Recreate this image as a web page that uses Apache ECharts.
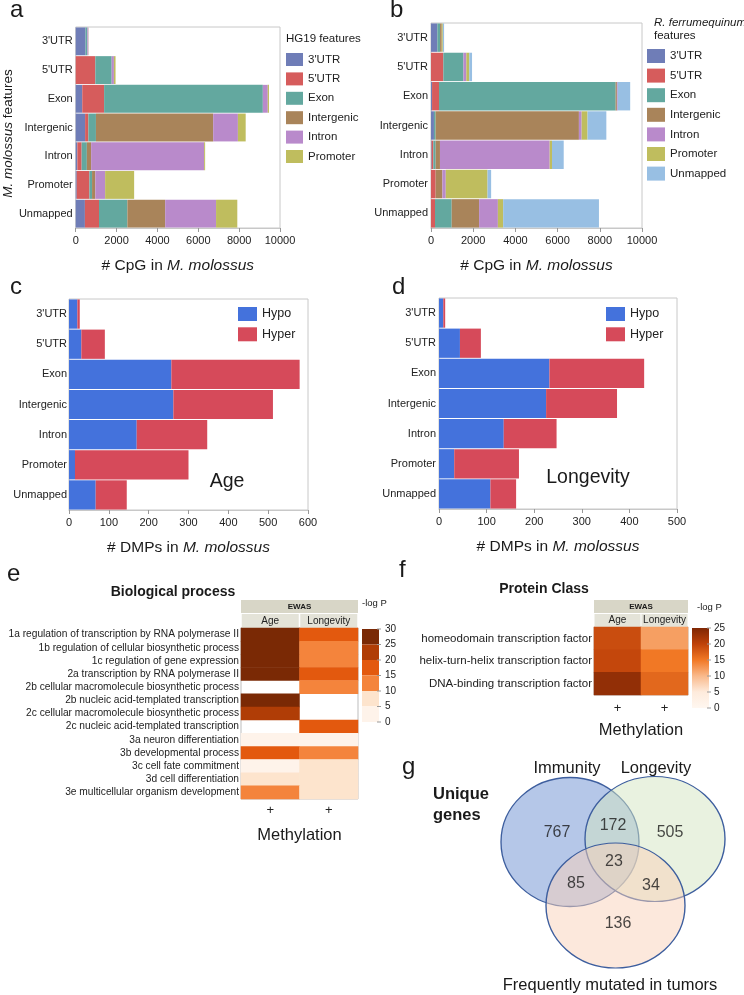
<!DOCTYPE html>
<html><head><meta charset="utf-8">
<script src="https://cdn.jsdelivr.net/npm/echarts@6/dist/echarts.min.js"></script>
<style>html,body{margin:0;padding:0;background:#fff}#c{width:744px;height:995px}</style>
</head><body><div id="c"></div>
<script>
// ---------- DATA ----------
const features = ["3'UTR","5'UTR","Exon","Intergenic","Intron","Promoter","Unmapped"];
const hg19Features = ["3'UTR","5'UTR","Exon","Intergenic","Intron","Promoter"];
// panel a: # CpG per M. molossus feature (rows), split by HG19 feature
const hg19_3UTR       = [480,   0,  320,  460,   80,   50,  450];
const hg19_5UTR       = [  0, 960, 1070,  160,  210,  620,  690];
const hg19_Exon       = [ 90, 800, 7770,  370,  255,  130, 1390];
const hg19_Intergenic = [  0,   0,    0, 5740,  210,  160, 1850];
const hg19_Intron     = [ 50, 110,  240, 1210, 5530,  480, 2490];
const hg19_Promoter   = [ 10,  80,   60,  380,   50, 1420, 1040];
// panel b: split by R. ferrumequinum feature
const rf_3UTR       = [300,   0,   50,  140,   30,    0,    0];
const rf_5UTR       = [  0, 585,  330,    0,   80,  220,  190];
const rf_Exon       = [130, 950, 8370,   80,  110,    0,  790];
const rf_Intergenic = [ 80,   0,   60, 6790,  205,  320, 1300];
const rf_Intron     = [  0, 140,   40,  130, 5200,  160,  890];
const rf_Promoter   = [ 50, 140,    0,  280,  110, 1980,  250];
const rf_Unmapped   = [ 60, 130,  590,  890,  555,  170, 4540];
// panel c: DMPs, Age
const ageHypo  = [21, 31, 257, 262, 170,  15, 67];
const ageHyper = [ 6, 59, 322, 250, 177, 285, 78];
// panel d: DMPs, Longevity
const lonHypo  = [ 9, 44, 232, 225, 136,  32, 108];
const lonHyper = [ 4, 44, 199, 149, 111, 136,  54];
// panel e: Biological process (-log P), null = not shown
const ewasCols = ["Age","Longevity"];
const bpTerms = [
 "1a regulation of transcription by RNA polymerase II",
 "1b regulation of cellular biosynthetic process",
 "1c regulation of gene expression",
 "2a transcription by RNA polymerase II",
 "2b cellular macromolecule biosynthetic process",
 "2b nucleic acid-templated transcription",
 "2c cellular macromolecule biosynthetic process",
 "2c nucleic acid-templated transcription",
 "3a neuron differentiation",
 "3b developmental process",
 "3c cell fate commitment",
 "3d cell differentiation",
 "3e multicellular organism development"];
const bpAge       = [28, 28, 28, 28, null, 28, 22, null, 3, 17, 2, 7, 12];
const bpLongevity = [17, 12, 12, 17, 12, null, null, 17, 3, 12, 7, 7, 7];
const bpTicks = [30, 25, 20, 15, 10, 5, 0];
// panel f: Protein class (-log P)
const pcTerms = ["homeodomain transcription factor","helix-turn-helix transcription factor","DNA-binding transcription factor"];
const pcAge       = [19, 19.5, 23.5];
const pcLongevity = [12, 15, 16.5];
const pcTicks = [25, 20, 15, 10, 5, 0];
// panel g: Venn
const vennSets = ["Immunity","Longevity","Frequently mutated in tumors"];
const vennCounts = [767, 172, 505, 23, 85, 34, 136]; // I, I&L, L, all, I&T, L&T, T

// ---------- LAYOUT / STYLE ----------
const FONT = "'Liberation Sans', Arial, Helvetica, sans-serif";
const TXT = '#1a1a1a';
const featColors = {"3'UTR":'#6f7db7',"5'UTR":'#d65c5c',"Exon":'#63a89f',"Intergenic":'#a9845a',"Intron":'#b98acb',"Promoter":'#bfbd5e',"Unmapped":'#98bfe3'};
const hypoColor = '#4472dc', hyperColor = '#d64a5a';
const bpColors = ['#fef3ea','#fde4cd','#f4843c','#e3590e','#b03d06','#7a2905'];
const pcColors = ['#fff7f0','#feebdc','#f9b98b','#f17825','#bf4209','#7f2704'];
const VENN = {
  cx:[198, 283, 243.5], cy:[87, 84, 150.5], size:[[138,129],[140,125],[139,125]],
  fill:['rgba(132,162,217,0.6)','rgba(211,229,193,0.5)','rgba(249,209,185,0.5)'],
  nx:[185, 241, 298, 242, 204, 279, 246], ny:[78, 71, 78, 107, 129, 131, 169],
  lx:[567, 656, 610], ly:[768, 768, 985]
};

const chart = echarts.init(document.getElementById('c'));

function T(x, y, text, size, o) {
  o = o || {};
  return {type:'text', x:x, y:y, silent:true, style:{text:text, fontSize:size, fontFamily:FONT,
    fill:o.fill||TXT, align:o.align||'left', textAlign:o.align||'left',
    verticalAlign:'middle', textVerticalAlign:'middle',
    fontWeight:o.weight||'normal', fontStyle:o.fstyle||'normal'}};
}
const italicRich = {i:{fontStyle:'italic', fontSize:15.5, color:TXT, fontFamily:FONT}};
function valAxis(grid, max, interval) {
  return {type:'value', gridIndex:grid, min:0, max:max, interval:interval,
    axisLine:{show:true, lineStyle:{color:'#c8c8c8'}},
    axisTick:{show:true, length:4, lineStyle:{color:'#999'}},
    axisLabel:{fontSize:11, color:'#222', margin:7, formatter:function(v){ return String(v); }},
    splitLine:{show:false}, nameLocation:'middle', nameGap:30,
    nameTextStyle:{fontSize:15.5, color:TXT, rich:italicRich}};
}
function catAxis(grid, data, margin) {
  return {type:'category', gridIndex:grid, data:data, inverse:true,
    axisLine:{show:false}, axisTick:{show:false},
    axisLabel:{fontSize:11, color:'#222', margin:margin, interval:0}};
}

const xAxes = [
  Object.assign(valAxis(0, 10000, 2000), {name:'# CpG in {i|M. molossus}'}),
  Object.assign(valAxis(1, 10000, 2000), {name:'# CpG in {i|M. molossus}'}),
  Object.assign(valAxis(2, 600, 100), {name:'# DMPs in {i|M. molossus}'}),
  Object.assign(valAxis(3, 500, 100), {name:'# DMPs in {i|M. molossus}'}),
  // e top / bottom
  {type:'category', gridIndex:4, data:ewasCols, position:'top', axisLine:{show:false}, axisTick:{show:false},
   axisLabel:{margin:0, fontSize:10, color:'#222', backgroundColor:'#e4e3d8', width:57, height:14, lineHeight:14, align:'center', interval:0}},
  {type:'category', gridIndex:4, data:ewasCols, position:'bottom', axisLine:{show:false}, axisTick:{show:false},
   axisLabel:{margin:5, fontSize:13, color:'#222', formatter:function(){return '+';}, interval:0},
   name:'Methylation', nameLocation:'middle', nameGap:28, nameTextStyle:{fontSize:16.5, color:TXT}},
  // f top / bottom
  {type:'category', gridIndex:5, data:ewasCols, position:'top', axisLine:{show:false}, axisTick:{show:false},
   axisLabel:{margin:0, fontSize:10, color:'#222', backgroundColor:'#e4e3d8', width:46, height:13, lineHeight:13, align:'center', interval:0}},
  {type:'category', gridIndex:5, data:ewasCols, position:'bottom', axisLine:{show:false}, axisTick:{show:false},
   axisLabel:{margin:7, fontSize:13, color:'#222', formatter:function(){return '+';}, interval:0},
   name:'Methylation', nameLocation:'middle', nameGap:27, nameTextStyle:{fontSize:16.5, color:TXT}},
  {type:'value', gridIndex:6, min:0, max:372, show:false}
];
const yAxes = [
  Object.assign(catAxis(0, features, 3), {name:'{i|M. molossus} features', nameLocation:'middle', nameRotate:90, nameGap:57,
     nameTextStyle:{fontSize:13.5, color:TXT, padding:[0,12,0,0], rich:{i:{fontStyle:'italic', fontSize:13.5, color:TXT, fontFamily:FONT}}}}),
  catAxis(1, features, 3),
  catAxis(2, features, 2),
  catAxis(3, features, 3),
  Object.assign(catAxis(4, bpTerms, 2), {axisLabel:{fontSize:10.2, color:'#222', margin:2, interval:0}}),
  Object.assign(catAxis(5, pcTerms, 2), {axisLabel:{fontSize:11.5, color:'#222', margin:2, interval:0}}),
  {type:'value', gridIndex:6, min:0, max:240, inverse:true, show:false}
];

const series = [];
function bar(name, data, ax, stack, color) {
  series.push({type:'bar', name:name, data:data, xAxisIndex:ax, yAxisIndex:ax, stack:stack,
    barCategoryGap:'3%', itemStyle:{color:color}, silent:true});
}
const aSeries = [hg19_3UTR, hg19_5UTR, hg19_Exon, hg19_Intergenic, hg19_Intron, hg19_Promoter];
hg19Features.forEach(function(f, i){ bar(f, aSeries[i], 0, 'a', featColors[f]); });
const bSeries = [rf_3UTR, rf_5UTR, rf_Exon, rf_Intergenic, rf_Intron, rf_Promoter, rf_Unmapped];
features.forEach(function(f, i){ bar(f, bSeries[i], 1, 'b', featColors[f]); });
bar('Hypo', ageHypo, 2, 'c', hypoColor); bar('Hyper', ageHyper, 2, 'c', hyperColor);
bar('Hypo', lonHypo, 3, 'd', hypoColor); bar('Hyper', lonHyper, 3, 'd', hyperColor);

const eData = [];
bpTerms.forEach(function(t, i){
  eData.push([0, i, bpAge[i] == null ? '-' : bpAge[i]]);
  eData.push([1, i, bpLongevity[i] == null ? '-' : bpLongevity[i]]);
});
const eIdx = series.length;
series.push({type:'heatmap', xAxisIndex:4, yAxisIndex:4, data:eData, silent:true, itemStyle:{borderWidth:0}});
const fData = [];
pcTerms.forEach(function(t, i){ fData.push([0, i, pcAge[i]]); fData.push([1, i, pcLongevity[i]]); });
const fIdx = series.length;
series.push({type:'heatmap', xAxisIndex:6, yAxisIndex:5, data:fData, silent:true});

// Venn circles
series.push({type:'scatter', xAxisIndex:8, yAxisIndex:6, silent:true, symbol:'circle',
  itemStyle:{borderColor:'#3d5e9e', borderWidth:1.3, opacity:1},
  data: vennSets.map(function(s, i){ return {name:s, value:[VENN.cx[i], VENN.cy[i]], symbolSize:VENN.size[i], itemStyle:{color:VENN.fill[i]}}; })});
series.push({type:'scatter', xAxisIndex:8, yAxisIndex:6, silent:true, symbolSize:1, itemStyle:{color:'rgba(0,0,0,0)'},
  label:{show:true, position:'inside', fontSize:16, color:TXT, fontFamily:FONT, formatter:function(p){return String(p.value[2]);}},
  data: vennCounts.map(function(v, i){ return [VENN.nx[i], VENN.ny[i], v]; })});

// ---------- graphic (titles, colour legends) ----------
const g = [];
[['a',10,10],['b',390,10],['c',10,287],['d',392,287],['e',7,574],['f',399,570],['g',402,767]].forEach(function(l){
  g.push(T(l[1], l[2], l[0], 24));
});
vennSets.forEach(function(s, i){ g.push(T(VENN.lx[i], VENN.ly[i], s, 16.5, {align:'center'})); });
g.push(T(286, 39, 'HG19 features', 11.5));
g.push(T(654, 23, 'R. ferrumequinum', 11.5, {fstyle:'italic'}));
g.push(T(654, 36, 'features', 11.5));
g.push(T(227, 482, 'Age', 19.5, {align:'center'}));
g.push(T(588, 478, 'Longevity', 19.5, {align:'center'}));
g.push(T(173, 592, 'Biological process', 14, {align:'center', weight:'bold'}));
g.push(T(544, 589, 'Protein Class', 14, {align:'center', weight:'bold'}));
// EWAS headers
g.push({type:'rect', silent:true, shape:{x:241, y:600, width:117, height:13}, style:{fill:'#d8d6c7'}});
g.push(T(299.5, 606.5, 'EWAS', 8, {align:'center', weight:'bold'}));
g.push({type:'rect', silent:true, shape:{x:594, y:600, width:94, height:13}, style:{fill:'#d8d6c7'}});
g.push(T(641, 606.5, 'EWAS', 8, {align:'center', weight:'bold'}));
// e colour legend (discrete)
g.push(T(362, 603, '-log P', 9.5));
const eStep = 15.5, eTop = 629;
for (let k = 0; k < bpColors.length; k++) {
  g.push({type:'rect', silent:true, shape:{x:362, y:eTop + k*eStep, width:17, height:eStep}, style:{fill:bpColors[bpColors.length-1-k]}});
}
bpTicks.forEach(function(t, k){
  g.push({type:'line', silent:true, shape:{x1:377, y1:eTop+k*eStep, x2:381, y2:eTop+k*eStep}, style:{stroke:'#999', lineWidth:1}});
  g.push(T(385, eTop + k*eStep, String(t), 10));
});
// f colour legend (continuous)
g.push(T(697, 607, '-log P', 9.5));
const fTop = 628, fH = 80;
g.push({type:'rect', silent:true, shape:{x:692, y:fTop, width:17, height:fH},
  style:{fill:{type:'linear', x:0, y:0, x2:0, y2:1, colorStops: pcColors.slice().reverse().map(function(c, k){ return {offset:k/(pcColors.length-1), color:c}; })}}});
pcTicks.forEach(function(t, k){
  const y = fTop + k*fH/(pcTicks.length-1);
  g.push({type:'line', silent:true, shape:{x1:707, y1:y, x2:711, y2:y}, style:{stroke:'#999', lineWidth:1}});
  g.push(T(714, y, String(t), 10));
});
g.push(T(433, 794, 'Unique', 16.5, {weight:'bold'}));
g.push(T(433, 815, 'genes', 16.5, {weight:'bold'}));

const option = {
  animation:false,
  textStyle:{fontFamily:FONT},
  grid:[
    {left:71, top:27, width:209, height:201, show:true, borderColor:'#c8c8c8', borderWidth:1},
    {left:431, top:23, width:211, height:205, show:true, borderColor:'#c8c8c8', borderWidth:1},
    {left:69, top:299, width:239, height:211, show:true, borderColor:'#c8c8c8', borderWidth:1},
    {left:439, top:298, width:238, height:211, show:true, borderColor:'#c8c8c8', borderWidth:1},
    {left:241, top:628, width:117, height:171, show:true, borderColor:'#bdbdbd', borderWidth:1},
    {left:594, top:627, width:94, height:68, show:true, borderColor:'#bdbdbd', borderWidth:1},
    {left:372, top:755, width:372, height:240, show:false}
  ],
  xAxis:xAxes, yAxis:yAxes,
  legend:[
    {data:hg19Features, left:286, top:53, orient:'vertical', icon:'rect', itemWidth:17, itemHeight:13, itemGap:6.4, padding:0, selectedMode:false, textStyle:{fontSize:11.5, color:'#222'}},
    {data:features, left:647, top:49, orient:'vertical', icon:'rect', itemWidth:18, itemHeight:14, itemGap:5.6, padding:0, selectedMode:false, textStyle:{fontSize:11.5, color:'#222'}},
    {data:['Hypo','Hyper'], left:238, top:307, orient:'vertical', icon:'rect', itemWidth:19, itemHeight:14, itemGap:6.3, padding:0, selectedMode:false, textStyle:{fontSize:12.5, color:'#222'}},
    {data:['Hypo','Hyper'], left:606, top:307, orient:'vertical', icon:'rect', itemWidth:19, itemHeight:14, itemGap:6.3, padding:0, selectedMode:false, textStyle:{fontSize:12.5, color:'#222'}}
  ],
  visualMap:[
    {type:'piecewise', show:false, seriesIndex:eIdx, dimension:2,
     pieces: bpColors.map(function(c, k){ return {min:k*5, max:k*5+5, color:c}; })},
    {type:'continuous', show:false, seriesIndex:fIdx, dimension:2, min:0, max:25, inRange:{color:pcColors}}
  ],
  series:series,
  graphic:g
};
chart.setOption(option);
</script>
</body></html>
